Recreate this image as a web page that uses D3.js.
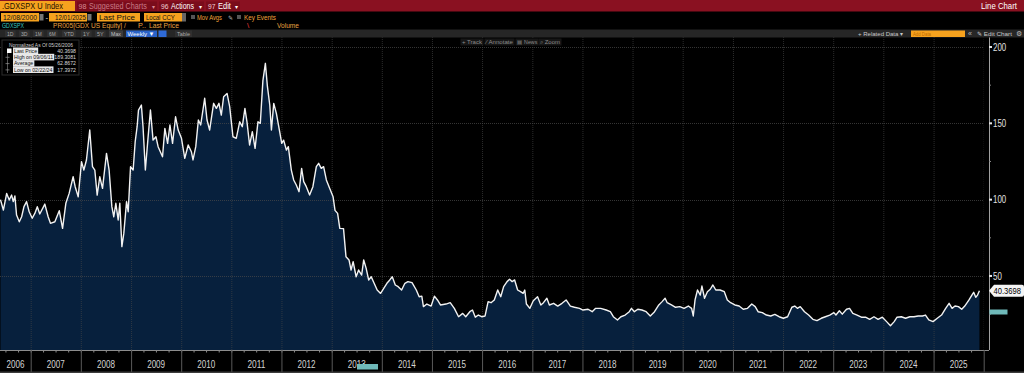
<!DOCTYPE html>
<html>
<head>
<meta charset="utf-8">
<script src="https://cdn.jsdelivr.net/npm/d3@7"></script>
<style>
    body { margin: 0; background: #000; overflow: hidden; }
    svg { display: block; font-family: "Liberation Sans", Arial, sans-serif; }
</style>
</head>
<body>
<div id="chart"></div>
<script>
// GDXSPX weekly ratio, normalized to 100 on 05/26/2006
const dates = [
    "2006-05-26","2006-06-16","2006-07-10","2006-07-29","2006-08-15","2006-08-27","2006-09-08","2006-09-20","2006-10-10","2006-10-27","2006-11-13","2006-12-02","2006-12-21",
    "2007-01-12","2007-01-31","2007-02-18","2007-03-08","2007-04-14","2007-05-08","2007-05-25","2007-06-26","2007-07-28","2007-08-21","2007-09-14","2007-10-08","2007-11-06","2007-11-21","2007-12-13",
    "2008-01-06","2008-01-23","2008-02-11","2008-03-06","2008-03-26","2008-04-12","2008-04-29","2008-05-18","2008-06-07","2008-07-06","2008-07-25","2008-08-14","2008-08-28","2008-09-12","2008-09-29","2008-10-11","2008-10-26","2008-11-09","2008-11-29","2008-12-11","2008-12-28",
    "2009-01-16","2009-01-31","2009-02-14","2009-02-24","2009-03-17","2009-03-29","2009-04-15","2009-05-03","2009-05-22","2009-06-10","2009-07-01","2009-07-17","2009-08-18","2009-09-04","2009-09-24","2009-10-11","2009-10-30","2009-11-21","2009-12-10",
    "2010-01-03","2010-01-27","2010-02-21","2010-03-16","2010-03-28","2010-04-17","2010-05-06","2010-05-23","2010-06-21","2010-07-08","2010-07-27","2010-08-25","2010-09-14","2010-10-03","2010-10-20","2010-11-06","2010-12-01","2010-12-20",
    "2011-01-13","2011-02-06","2011-03-03","2011-03-22","2011-04-10","2011-04-25","2011-05-14","2011-06-03","2011-06-23","2011-07-14","2011-07-31","2011-08-19","2011-09-06","2011-09-21","2011-10-08","2011-10-20","2011-11-06","2011-11-25","2011-12-19",
    "2012-01-03","2012-01-17","2012-02-06","2012-02-20","2012-03-13","2012-03-30","2012-04-18","2012-05-08","2012-05-27","2012-06-11","2012-06-30","2012-07-24","2012-08-17","2012-09-11","2012-09-28","2012-10-17","2012-11-03","2012-11-23","2012-12-17",
    "2013-01-11","2013-01-25","2013-02-13","2013-03-01","2013-03-28","2013-04-15","2013-05-07","2013-05-22","2013-06-06","2013-06-28","2013-07-16","2013-08-07","2013-08-22","2013-09-09","2013-09-27","2013-10-16","2013-11-06","2013-11-28","2013-12-23",
    "2014-01-16","2014-02-07","2014-02-28","2014-03-18","2014-04-09","2014-04-30","2014-05-25","2014-06-18","2014-07-10","2014-08-09","2014-09-09","2014-09-30","2014-10-19","2014-10-31","2014-11-25","2014-12-26",
    "2015-01-19","2015-02-10","2015-03-04","2015-04-13","2015-05-14","2015-06-13","2015-07-14","2015-08-13","2015-09-04","2015-10-04","2015-10-23","2015-11-13","2015-12-05","2015-12-29",
    "2016-01-23","2016-02-14","2016-03-06","2016-03-30","2016-04-24","2016-05-16","2016-06-06","2016-07-01","2016-07-19","2016-08-07","2016-08-25","2016-09-16","2016-10-07","2016-10-26","2016-11-07","2016-11-19","2016-12-14",
    "2017-01-08","2017-02-08","2017-03-04","2017-03-23","2017-04-17","2017-05-05","2017-06-05","2017-07-05","2017-08-05","2017-09-04","2017-10-05","2017-11-04","2017-12-11",
    "2018-01-05","2018-02-11","2018-03-13","2018-04-07","2018-05-14","2018-06-23","2018-07-23","2018-08-14","2018-09-13","2018-10-08","2018-11-08","2018-12-08","2018-12-24",
    "2019-01-14","2019-02-08","2019-03-10","2019-04-10","2019-05-10","2019-06-10","2019-07-11","2019-08-04","2019-08-26","2019-09-10","2019-10-11","2019-11-10","2019-12-11",
    "2020-01-11","2020-02-11","2020-03-06","2020-03-18","2020-03-31","2020-04-18","2020-05-08","2020-05-20","2020-06-08","2020-06-29","2020-07-20","2020-08-08","2020-08-29","2020-09-29","2020-10-30","2020-11-21","2020-12-15",
    "2021-01-15","2021-02-15","2021-03-17","2021-04-17","2021-05-18","2021-06-12","2021-07-03","2021-08-03","2021-09-02","2021-10-03","2021-11-02","2021-12-03",
    "2022-01-03","2022-02-03","2022-03-06","2022-03-27","2022-04-15","2022-05-06","2022-06-06","2022-07-06","2022-08-06","2022-09-05","2022-10-06","2022-11-05","2022-12-07",
    "2023-01-06","2023-01-21","2023-02-15","2023-03-08","2023-04-08","2023-04-30","2023-05-24","2023-06-24","2023-07-25","2023-08-24","2023-09-24","2023-10-25","2023-11-24","2023-12-25",
    "2024-01-25","2024-02-22","2024-03-20","2024-04-10","2024-05-11","2024-06-11","2024-07-12","2024-08-11","2024-09-11","2024-10-12","2024-11-03","2024-11-27","2024-12-28",
    "2025-01-28","2025-02-28","2025-03-30","2025-04-24","2025-05-16","2025-06-06","2025-07-01","2025-07-25","2025-08-16","2025-09-16","2025-10-07","2025-10-20","2025-11-04","2025-11-17","2025-12-01"
];
const values = [
    100.0, 93.2, 104.1, 99.8, 103.0, 98.7, 102.4, 89.9, 85.5, 88.8, 95.4, 98.7, 92.1,
    87.8, 91.0, 95.4, 90.6, 97.1, 88.8, 84.5, 85.5, 92.8, 81.2, 97.6, 104.1, 115.0, 108.5, 101.9,
    124.9, 119.4, 126.0, 145.6, 121.6, 119.4, 103.0, 115.0, 107.4, 130.3, 119.4, 95.4, 88.8, 97.6, 86.7, 97.6, 69.2, 77.9, 98.7, 92.1, 121.6,
    119.4, 138.0, 147.8, 158.7, 162.0, 147.8, 119.4, 139.0, 158.7, 139.0, 141.2, 134.7, 128.1, 146.7, 136.9, 148.9, 136.9, 154.3, 145.6,
    140.2, 127.1, 135.8, 131.4, 126.0, 134.7, 152.2, 148.9, 166.4, 152.2, 145.6, 163.1, 159.8, 163.1, 155.4, 167.4, 169.6, 160.9,
    141.2, 140.2, 151.0, 147.8, 159.8, 151.0, 135.8, 144.5, 133.6, 151.0, 150.0, 178.0, 189.3081, 174.0, 162.0, 145.6, 163.1, 156.5, 144.5,
    136.9, 139.0, 132.5, 134.7, 119.4, 112.9, 109.6, 105.2, 120.5, 111.8, 108.5, 103.0, 108.5, 121.6, 123.8, 120.5, 121.6, 112.9, 107.4,
    101.9, 93.0, 91.0, 81.2, 81.0, 62.6, 60.5, 53.9, 59.4, 49.5, 53.9, 50.6, 60.5, 55.0, 47.4, 49.5, 45.2, 40.8, 38.6,
    42.0, 45.2, 47.4, 49.5, 44.1, 43.0, 40.8, 45.2, 46.3, 45.6, 40.8, 36.4, 36.8, 29.9, 31.6, 30.3,
    36.8, 34.3, 31.0, 31.6, 32.5, 28.8, 23.3, 25.5, 23.3, 26.6, 27.7, 23.0, 24.4, 23.3,
    23.8, 33.2, 32.5, 34.3, 40.8, 36.4, 43.0, 46.3, 47.8, 46.3, 47.4, 40.8, 39.7, 38.6, 40.8, 31.6, 28.8,
    33.8, 36.4, 31.0, 32.5, 35.4, 31.0, 32.1, 30.3, 32.1, 34.3, 30.3, 29.5, 28.8,
    27.7, 28.2, 26.6, 28.8, 28.8, 27.7, 26.6, 23.3, 21.2, 23.3, 24.4, 26.6, 28.8,
    26.6, 28.2, 27.7, 26.6, 23.8, 26.6, 31.0, 33.2, 35.4, 32.5, 31.0, 29.5, 29.9,
    28.8, 30.3, 28.8, 23.8, 34.3, 40.8, 37.5, 43.4, 35.4, 39.7, 41.3, 44.1, 40.8, 40.8, 39.7, 34.3, 32.5,
    31.0, 30.3, 28.2, 28.8, 31.6, 29.9, 26.6, 26.0, 24.4, 23.8, 24.8, 23.3,
    22.3, 23.3, 29.5, 30.3, 28.8, 29.9, 26.6, 24.4, 21.6, 20.8, 22.3, 23.3, 24.4,
    26.0, 24.4, 27.2, 25.0, 28.2, 28.8, 25.5, 24.4, 23.0, 23.0, 21.6, 23.3, 21.6, 23.0,
    20.1, 17.3972, 20.1, 23.0, 23.3, 22.3, 23.3, 23.3, 23.8, 23.8, 24.4, 21.2, 20.1,
    22.3, 24.4, 28.8, 32.1, 28.8, 30.3, 29.9, 28.2, 30.3, 34.3, 37.5, 39.3, 36.0, 37.5, 40.3698
];
const yearLabels = ["2006","2007","2008","2009","2010","2011","2012","2013","2014","2015",
    "2016","2017","2018","2019","2020","2021","2022","2023","2024","2025"];
const yTicks = [50, 100, 150, 200];
const yMinorTicks = [25, 75, 125, 175];
const legendTitle = "Normalized As Of 05/26/2006";
const legendLabels = ["Last Price", "High on 09/06/11", "Average", "Low on 02/22/24"];
const legendValues = ["40.3698", "189.3081", "62.8672", "17.3972"];
const lastLabel = "40.3698";

const W = 1024, H = 373;
const plot = { left: 0, right: 984, top: 37, bottom: 350 };
const axisX = 989;

const parse = d3.timeParse("%Y-%m-%d");
const data = dates.map((d, i) => ({ date: parse(d), value: values[i] }));

const svg = d3.select("#chart").append("svg")
    .attr("width", W)
    .attr("height", H);

svg.append("rect").attr("width", W).attr("height", H).attr("fill", "#000");

// squeeze a text horizontally so it spans `width` px (narrow terminal font look)
function squeeze(sel, x0, y0, width) {
    sel.attr("x", 0).attr("y", 0);
    const natural = sel.node().getComputedTextLength();
    const anchor = sel.attr("text-anchor");
    const sx = width ? width / natural : 1;
    let tx = x0;
    if (anchor === "middle") tx = x0;
    sel.attr("transform", `translate(${tx},${y0}) scale(${sx},1)`);
    return sel;
}

// scales
const x = d3.scaleTime()
    .domain([new Date(2007, 0, 1), new Date(2026, 0, 1)])
    .range([30.7, 983.7]);
const y = d3.scaleLinear()
    .domain([0, 200])
    .range([352.3, 47]);

// ---------- plot ----------
svg.append("clipPath").attr("id", "clip")
    .append("rect")
    .attr("x", plot.left).attr("y", plot.top)
    .attr("width", plot.right - plot.left).attr("height", plot.bottom - plot.top);

const g = svg.append("g").attr("clip-path", "url(#clip)");

const area = d3.area()
    .x(d => x(d.date))
    .y0(plot.bottom)
    .y1(d => y(d.value));
const line = d3.line()
    .x(d => x(d.date))
    .y(d => y(d.value));

g.append("path")
    .datum(data)
    .attr("d", area)
    .attr("fill", "#07203d");

// grid over the fill
const yearStarts = d3.timeYear.range(new Date(2007, 0, 1), new Date(2026, 0, 2));
g.selectAll(".vgrid")
    .data(yearStarts)
    .enter().append("line")
    .attr("x1", d => x(d) + 0.5).attr("x2", d => x(d) + 0.5)
    .attr("y1", plot.top).attr("y2", plot.bottom)
    .attr("stroke", "#4a4a4a")
    .attr("stroke-opacity", 0.6)
    .attr("stroke-dasharray", "1,1");

g.selectAll(".hgrid")
    .data(yTicks)
    .enter().append("line")
    .attr("x1", plot.left).attr("x2", plot.right)
    .attr("y1", d => Math.round(y(d)) + 0.5).attr("y2", d => Math.round(y(d)) + 0.5)
    .attr("stroke", "#4a4a4a")
    .attr("stroke-opacity", 0.7)
    .attr("stroke-dasharray", "1,1");

g.append("path")
    .datum(data)
    .attr("d", line)
    .attr("fill", "none")
    .attr("stroke", "#f2f2f2")
    .attr("stroke-width", 1.4)
    .attr("stroke-linejoin", "round");

// ---------- x axis ----------
svg.append("line")
    .attr("x1", 0).attr("x2", axisX)
    .attr("y1", plot.bottom + 0.5).attr("y2", plot.bottom + 0.5)
    .attr("stroke", "#8c8c8c");

const quarters = d3.timeMonth.every(3).range(data[0].date, new Date(2026, 0, 1));
svg.selectAll(".qtick")
    .data(quarters)
    .enter().append("line")
    .attr("x1", d => x(d) + 0.5).attr("x2", d => x(d) + 0.5)
    .attr("y1", plot.bottom).attr("y2", plot.bottom + 2.5)
    .attr("stroke", "#8c8c8c");

svg.selectAll(".ysep")
    .data(yearStarts)
    .enter().append("line")
    .attr("x1", d => x(d) + 0.5).attr("x2", d => x(d) + 0.5)
    .attr("y1", plot.bottom).attr("y2", H - 1)
    .attr("stroke", "#5a5a5a");

svg.selectAll(".ylabel")
    .data(yearLabels)
    .enter().append("text")
    .attr("font-size", 10)
    .attr("fill", "#d4d4d4")
    .text(d => d)
    .each(function (d) {
        const s = d3.max([new Date(+d, 0, 1), data[0].date]);
        const cx = (x(s) + x(new Date(+d + 1, 0, 1))) / 2;
        squeeze(d3.select(this), cx - 9, 368, 18);
    });

svg.append("rect").attr("x", 0).attr("y", H - 1.5).attr("width", W).attr("height", 1.5).attr("fill", "#3c3c3c");

// tag over the 2013 label
svg.append("rect")
    .attr("x", 357).attr("y", 364).attr("width", 21).attr("height", 5.5)
    .attr("fill", "#6fb9b9");

// ---------- y axis ----------
svg.append("line")
    .attr("x1", axisX + 0.5).attr("x2", axisX + 0.5)
    .attr("y1", plot.top).attr("y2", plot.bottom)
    .attr("stroke", "#a0a0a0");

svg.selectAll(".ytick")
    .data(yTicks)
    .enter().append("rect")
    .attr("x", axisX).attr("y", d => y(d) - 1)
    .attr("width", 3).attr("height", 2)
    .attr("fill", "#e6e6e6");

svg.selectAll(".yminor")
    .data(yMinorTicks)
    .enter().append("rect")
    .attr("x", axisX).attr("y", d => y(d) - 0.5)
    .attr("width", 2).attr("height", 1)
    .attr("fill", "#888");

svg.selectAll(".ytext")
    .data(yTicks)
    .enter().append("text")
    .attr("font-size", 10)
    .attr("fill", "#e2e2e2")
    .text(d => d)
    .each(function (d) {
        squeeze(d3.select(this), axisX + 4, y(d) + 3.8, String(d).length * 4.4);
    });

// last price tag
const ly = y(values[values.length - 1]);
svg.append("path")
    .attr("d", `M${axisX},${ly} L${axisX + 5},${ly - 6} H${W - 2} Q${W},${ly - 6} ${W},${ly - 4} V${ly + 4} Q${W},${ly + 6} ${W - 2},${ly + 6} H${axisX + 5} Z`)
    .attr("fill", "#f4f4f4");
squeeze(svg.append("text")
    .attr("font-size", 9.5)
    .attr("fill", "#000")
    .text(lastLabel), axisX + 4.5, ly + 3.6, 27.5);

svg.append("rect")
    .attr("x", axisX + 0.5).attr("y", 309.5).attr("width", 18).attr("height", 5)
    .attr("fill", "#6fb9b9");

// ---------- legend box ----------
const lg = svg.append("g").attr("transform", "translate(2,40)");
lg.append("rect")
    .attr("width", 77).attr("height", 35)
    .attr("fill", "#000")
    .attr("stroke", "#2c2c2c");
squeeze(lg.append("text")
    .attr("font-size", 5.2)
    .attr("fill", "#cfcfcf")
    .text(legendTitle), 7, 6.5, 64);
lg.append("line")
    .attr("x1", 5.5).attr("x2", 5.5).attr("y1", 10).attr("y2", 33)
    .attr("stroke", "#555");
lg.append("rect").attr("x", 5).attr("y", 8.5).attr("width", 4.5).attr("height", 4.5).attr("fill", "#fff");

legendLabels.forEach((label, i) => {
    const ry = 12.8 + i * 6.3;
    const t = lg.append("text")
        .attr("x", 12).attr("y", ry)
        .attr("font-size", 5.2)
        .attr("fill", "#111")
        .text(label);
    const bb = t.node().getBBox();
    lg.insert("rect", "text")
        .attr("x", bb.x - 1).attr("y", bb.y - 0.3)
        .attr("width", bb.width + 2).attr("height", bb.height + 0.6)
        .attr("fill", "#e8e8e8");
    lg.append("text")
        .attr("x", 74).attr("y", ry)
        .attr("text-anchor", "end")
        .attr("font-size", 5.2)
        .attr("fill", "#d8d8d8")
        .text(legendValues[i]);
    if (i > 0) {
        lg.append("line")
            .attr("x1", 3.5).attr("x2", 7.5).attr("y1", ry - 1.8).attr("y2", ry - 1.8)
            .attr("stroke", "#999").attr("stroke-width", 0.7);
    }
});

// ---------- header ----------
const hdr = svg.append("g");
function box(x0, y0, w, h, fill) {
    return hdr.append("rect").attr("x", x0).attr("y", y0).attr("width", w).attr("height", h).attr("fill", fill);
}
function label(x0, y0, txt, fill, size, width) {
    const t = hdr.append("text")
        .attr("font-size", size || 8)
        .attr("fill", fill)
        .text(txt);
    return squeeze(t, x0, y0, width);
}

// row 1
box(0, 0, W, 11.5, "#8a1121");
box(0, 1, 75, 10, "#f6a21e");
label(2, 9, ".GDXSPX U Index", "#1a1000", 9.5, 61);
box(77, 1.5, 80, 9, "#7a0c1b");
label(78.5, 9, "98", "#d88a94", 8, 8);
label(89, 9, "Suggested Charts", "#c97a86", 8.5, 58);
label(151.5, 9, "▾", "#d88a94", 6);
box(159, 1.5, 45, 9, "#7a0c1b");
label(161, 9, "96", "#f0d0d4", 8, 7.5);
label(171, 9, "Actions", "#ffffff", 8.5, 23);
label(199, 9, "▾", "#ffffff", 6);
box(206, 1.5, 34, 9, "#7a0c1b");
label(208, 9, "97", "#f0d0d4", 8, 7.5);
label(218, 9, "Edit", "#ffffff", 8.5, 13);
label(235, 9, "▾", "#ffffff", 6);
label(981, 9, "Line Chart", "#ffffff", 9.5, 36);

// row 2
box(1, 13, 38, 8.5, "#f6a21e");
label(3, 20, "12/08/2000", "#111", 8, 34);
box(39.5, 14, 4, 6.5, "#777");
label(45.5, 20, "-", "#ddd", 8);
box(49, 13, 38, 8.5, "#f6a21e");
label(55, 20, "12/01/2025", "#111", 8, 31);
box(87.5, 14, 4, 6.5, "#777");
box(97, 13, 43, 8.5, "#f6a21e");
label(99, 20, "Last Price", "#111", 8, 36);
box(144, 13, 38, 8.5, "#f6a21e");
label(146, 20, "Local CCY", "#111", 8, 29);
box(182, 13, 4, 8.5, "#666");
box(191, 15, 4, 4, "#555");
label(197, 20, "Mov Avgs", "#f0a23a", 8, 25);
label(227.5, 20, "✎", "#bbb", 6);
box(237, 15, 4, 4, "#555");
label(244, 20, "Key Events", "#f0a23a", 8, 32);

// row 3
label(2, 28, "GDXSPX", "#3ccbc0", 7.5, 22);
label(53, 28, "PR005[GDX US Equity] /", "#e8a040", 7.5, 73);
label(138, 28, "P..", "#e8a040", 7.5, 8);
label(149, 28, "Last Price", "#e8a040", 7.5, 30);
label(247, 28, "\\", "#e03a3a", 8);
label(277, 28, "Volume", "#e8a040", 7.5, 22);

// row 4 toolbar
box(0, 29.5, W, 8, "#262626");
const periods = [["1D", 7], ["3D", 21], ["1M", 35], ["6M", 49], ["YTD", 64], ["1Y", 83], ["5Y", 97]];
periods.forEach(p => {
    box(p[1] - 2, 30.5, p[0].length * 3.3 + 4, 6.5, "#303030");
    label(p[1], 36, p[0], "#a8a8a8", 6.2, p[0].length * 3.3);
});
box(109, 30.5, 14, 6.5, "#3c3c3c");
label(111, 36, "Max", "#c0c0c0", 6.2, 10);
box(126, 30.5, 31, 6.5, "#2962c8");
label(127.5, 36, "Weekly ▼", "#ffffff", 6.2, 27);
box(158.5, 30.5, 8, 6.5, "#2f6ad6");
box(175, 30.5, 17, 6.5, "#303030");
label(177, 36, "Table", "#a8a8a8", 6.2, 13);

label(858, 36, "+ Related Data ▾", "#c8c8c8", 6.2, 45);
box(911, 30.5, 54, 6.5, "#f6a21e");
label(913, 36, "Add Data", "#c06a00", 6.2, 18);
label(968, 36, "«", "#bbb", 7);
label(977, 36, "✎ Edit Chart", "#c8c8c8", 6.2, 35);
label(1016, 36.2, "⚙", "#bbb", 7);

// chart tools under the toolbar
const tools = [["+ Track", 462, 20], ["⁄ Annotate", 486, 27], ["▤ News", 517, 20], ["⌕ Zoom", 540, 20]];
tools.forEach(t => {
    box(t[1] - 1.5, 38.5, t[2] + 3, 7, "#161616");
    label(t[1], 44, t[0], "#8c8c8c", 6, t[2]);
});
</script>
</body>
</html>
